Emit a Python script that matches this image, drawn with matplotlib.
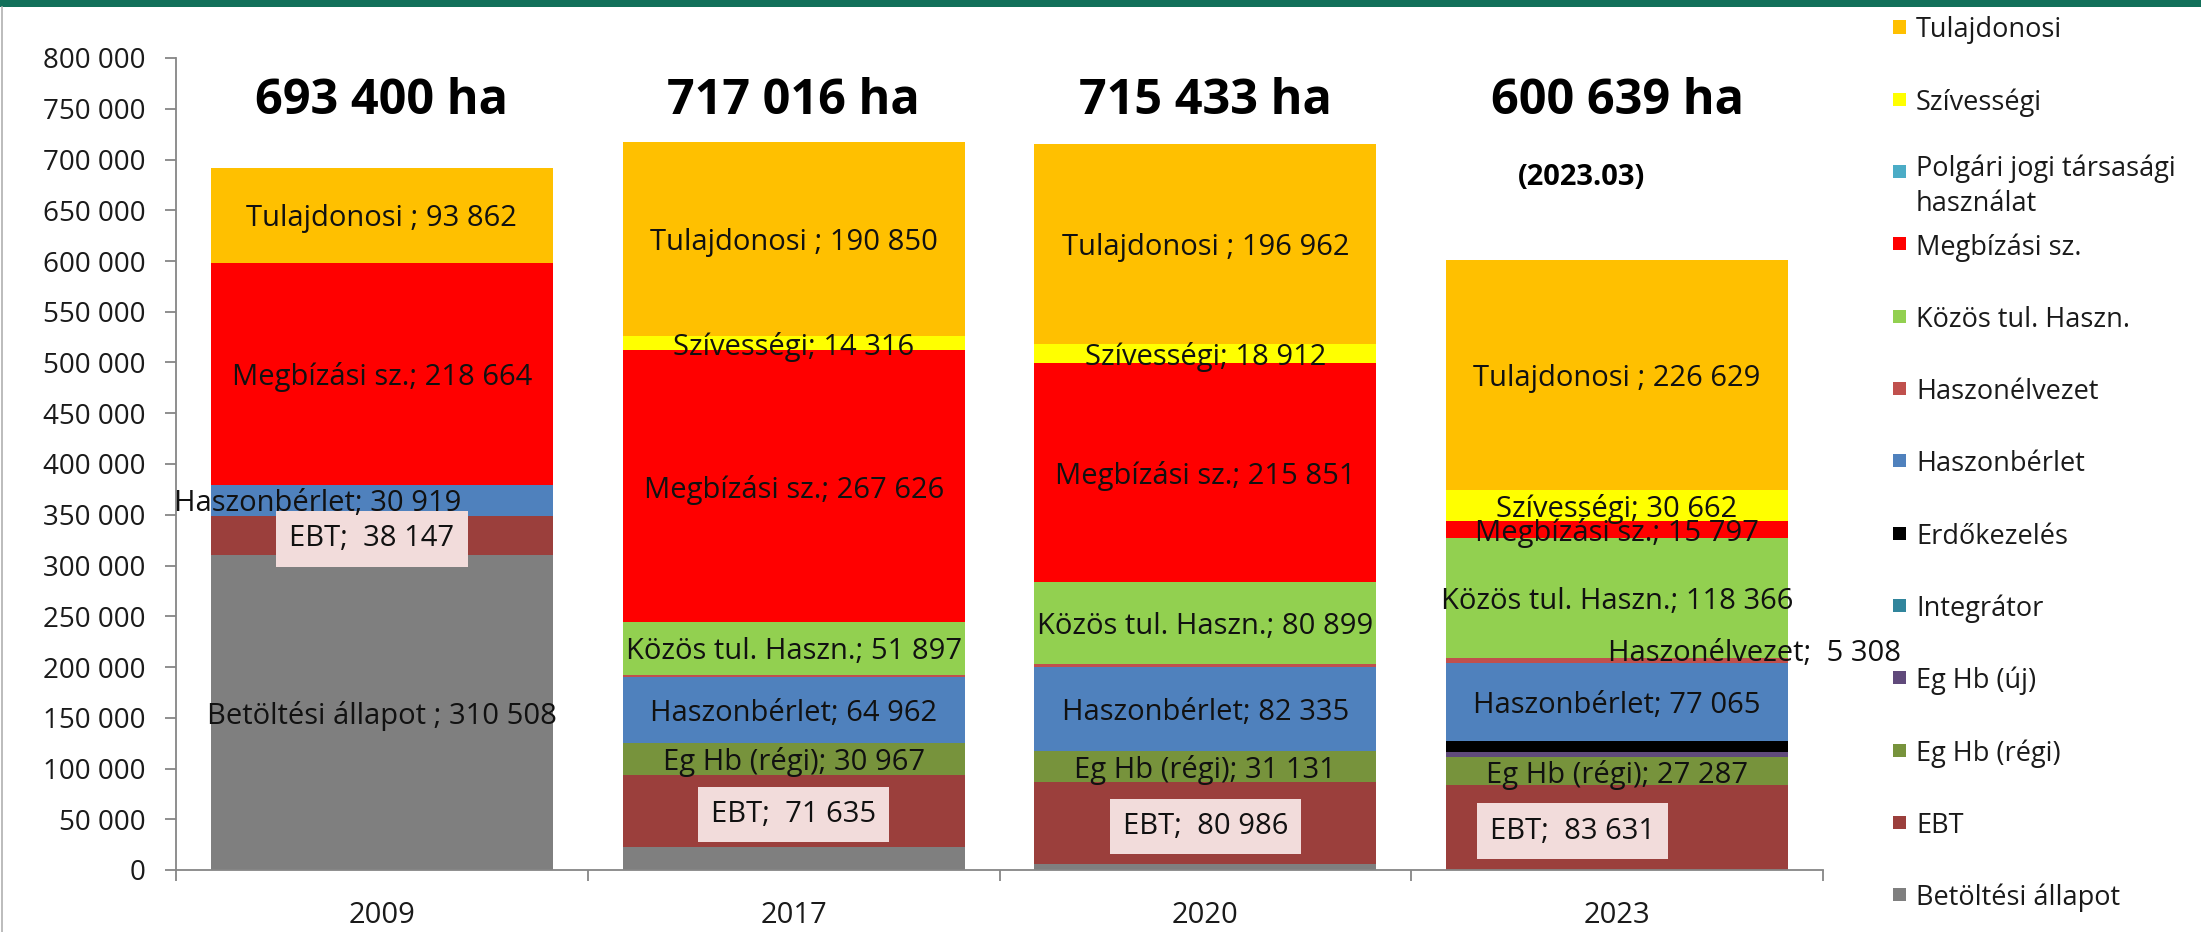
import matplotlib
matplotlib.use("Agg")
import matplotlib.pyplot as plt
from matplotlib.patches import Rectangle
from matplotlib.lines import Line2D

plt.rcParams["font.family"] = ["Open Sans", "DejaVu Sans"]

# ── data ──────────────────────────────────────────────────────────────────
years = ["2009", "2017", "2020", "2023"]
totals = ["693 400 ha", "717 016 ha", "715 433 ha", "600 639 ha"]
note_2023 = "(2023.03)"

# stacked from bottom to top
series = ["Betöltési állapot", "EBT", "Eg Hb (régi)", "Eg Hb (új)", "Integrátor",
          "Erdőkezelés", "Haszonbérlet", "Haszonélvezet", "Közös tul. Haszn.",
          "Megbízási sz.", "Polgári jogi társasági\nhasználat", "Szívességi",
          "Tulajdonosi"]

betoltes      = [310508, 22400, 5500, 0]
ebt           = [38147, 71635, 80986, 83631]
eghb_regi     = [0, 30967, 31131, 27287]
eghb_uj       = [0, 0, 0, 5300]
integrator    = [0, 0, 0, 0]
erdokezeles   = [0, 0, 0, 10600]
haszonberlet  = [30919, 64962, 82335, 77065]
haszonelvezet = [0, 2400, 2900, 5308]
kozos         = [0, 51897, 80899, 118366]
megbizasi     = [218664, 267626, 215851, 15797]
polgari       = [0, 0, 0, 0]
szivessegi    = [0, 14316, 18912, 30662]
tulajdonosi   = [93862, 190850, 196962, 226629]

values = [betoltes, ebt, eghb_regi, eghb_uj, integrator, erdokezeles,
          haszonberlet, haszonelvezet, kozos, megbizasi, polgari,
          szivessegi, tulajdonosi]

colors = ["#7F7F7F", "#9B3F3C", "#77933C", "#604A7B", "#31859C", "#000000",
          "#4F81BD", "#C0504D", "#92D050", "#FF0000", "#4BACC6", "#FFFF00",
          "#FFC000"]

label_prefix = {
    "Betöltési állapot": "Betöltési állapot ; ",
    "EBT": "EBT;  ",
    "Eg Hb (régi)": "Eg Hb (régi); ",
    "Haszonbérlet": "Haszonbérlet; ",
    "Haszonélvezet": "Haszonélvezet;  ",
    "Közös tul. Haszn.": "Közös tul. Haszn.; ",
    "Megbízási sz.": "Megbízási sz.; ",
    "Szívességi": "Szívességi; ",
    "Tulajdonosi": "Tulajdonosi ; ",
}
# thin slivers that carry no label in the original
unlabeled = {("Betöltési állapot", 1), ("Betöltési állapot", 2),
             ("Haszonélvezet", 1), ("Haszonélvezet", 2)}
# label nudges in pixels (dx, dy)
label_shift = {("Haszonbérlet", 0): (-64, 0), ("EBT", 0): (-10, 0),
               ("EBT", 3): (-45, 0), ("Haszonélvezet", 3): (137, 10)}

# ── figure ────────────────────────────────────────────────────────────────
W, H = 2201, 932
fig = plt.figure(figsize=(W / 100, H / 100), dpi=100)
fig.patch.set_facecolor("white")

# slide frame: green band on top, thin grey rule on the left
fig.add_artist(Rectangle((0, 1 - 7 / H), 1, 7 / H, transform=fig.transFigure,
                         color="#12705A", lw=0))
fig.add_artist(Line2D([2 / W, 2 / W], [0, 1 - 7 / H], transform=fig.transFigure,
                      color="#B0B0B0", lw=1.2))

ax = fig.add_axes([176 / W, (H - 870) / H, (1823 - 176) / W, (870 - 58) / H])
ax.set_xlim(-0.5, 3.5)
ax.set_ylim(0, 800000)

x = range(len(years))
bottom = [0] * len(years)
for name, vals, col in zip(series, values, colors):
    ax.bar(x, vals, width=0.83, bottom=bottom, color=col, linewidth=0, zorder=2)
    for i, v in enumerate(vals):
        if v <= 0 or name not in label_prefix or (name, i) in unlabeled:
            continue
        txt = label_prefix[name] + f"{v:,}".replace(",", " ")
        dx, dy = label_shift.get((name, i), (0, 0))
        kw = {}
        if name == "EBT":
            kw["bbox"] = dict(boxstyle="square,pad=0.45", fc="#F2DCDB", ec="none")
        ax.annotate(txt, xy=(i, bottom[i] + v / 2), xytext=(dx * 0.72, dy * 0.72),
                    textcoords="offset points", ha="center", va="center_baseline",
                    fontsize=21, color="#111111", zorder=5, **kw)
    bottom = [b + v for b, v in zip(bottom, vals)]

# totals above the bars
for i, t in enumerate(totals):
    ax.text(i, 757000, t, ha="center", va="center", fontsize=35,
            fontweight="bold", color="#000000")
ax.text(3 - 0.087, 682000, note_2023, ha="center", va="center", fontsize=21,
        fontweight="bold", color="#000000")

# axes styling
for s in ["top", "right"]:
    ax.spines[s].set_visible(False)
for s in ["left", "bottom"]:
    ax.spines[s].set_color("#868686")
    ax.spines[s].set_linewidth(1.3)
    ax.spines[s].set_zorder(3)

yt = list(range(0, 800001, 50000))
ax.set_yticks(yt)
ax.set_yticklabels([f"{v:,}".replace(",", " ") for v in yt])
ax.tick_params(axis="y", direction="out", length=8, width=1.3, color="#868686",
               pad=14, labelsize=20, labelcolor="#1a1a1a")

ax.set_xticks(list(x))
ax.set_xticklabels(years)
ax.set_xticks([-0.5, 0.5, 1.5, 2.5, 3.5], minor=True)
ax.tick_params(axis="x", which="major", length=0, pad=22, labelsize=21,
               labelcolor="#1a1a1a")
ax.tick_params(axis="x", which="minor", direction="out", length=8, width=1.3,
               color="#868686")

# legend, drawn as in the source: top to bottom, one row every ~72 px
legend_items = list(zip(series, colors))[::-1]
for k, (name, col) in enumerate(legend_items):
    yc = 27 + k * 72.3
    fig.add_artist(Rectangle((1893 / W, 1 - (yc + 6.5) / H), 13 / W, 13 / H,
                             transform=fig.transFigure, color=col, lw=0))
    if "\n" in name:
        fig.text(1916 / W, 1 - (yc - 17) / H, name, ha="left", va="top",
                 fontsize=19.5, color="#1a1a1a", linespacing=1.35)
    else:
        fig.text(1916 / W, 1 - yc / H, name, ha="left", va="center_baseline",
                 fontsize=19.5, color="#1a1a1a")

fig.savefig("out.png", dpi=100, facecolor="white")
